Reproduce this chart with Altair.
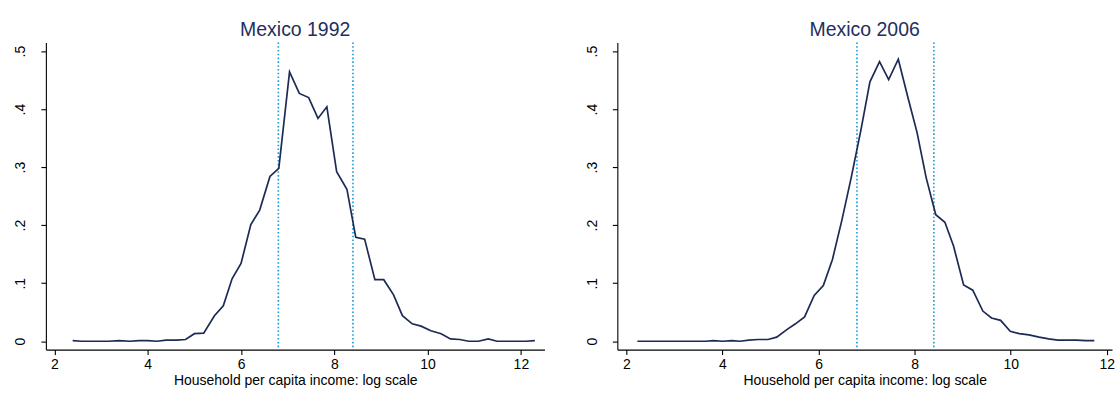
import altair as alt
import pandas as pd

# ---- data ----
x_1992 = [2.39, 2.58, 2.78, 2.97, 3.16, 3.39, 3.62, 3.81, 4.00, 4.20,
          4.39, 4.62, 4.81, 5.00, 5.20, 5.43, 5.62, 5.81, 6.00, 6.21,
          6.40, 6.62, 6.81, 7.04, 7.25, 7.45, 7.65, 7.84, 8.05, 8.27,
          8.46, 8.65, 8.87, 9.06, 9.27, 9.46, 9.67, 9.86, 10.07, 10.29,
          10.49, 10.69, 10.88, 11.09, 11.30, 11.49, 11.69, 11.92, 12.11, 12.30]
y_1992 = [0.001, 0.000, 0.000, 0.000, 0.000, 0.001, 0.000, 0.001, 0.001, 0.000,
          0.002, 0.002, 0.003, 0.013, 0.014, 0.044, 0.061, 0.108, 0.134, 0.201,
          0.226, 0.284, 0.298, 0.464, 0.427, 0.420, 0.384, 0.404, 0.292, 0.262,
          0.179, 0.176, 0.106, 0.106, 0.080, 0.044, 0.030, 0.026, 0.018, 0.013,
          0.004, 0.003, 0.000, 0.000, 0.004, 0.000, 0.000, 0.000, 0.000, 0.001]

x_2006 = [2.23, 2.43, 2.63, 2.84, 3.04, 3.24, 3.44, 3.65, 3.81, 4.00,
          4.20, 4.37, 4.55, 4.74, 4.95, 5.13, 5.34, 5.52, 5.71, 5.91,
          6.10, 6.29, 6.49, 6.68, 6.88, 7.07, 7.27, 7.46, 7.66, 7.87,
          8.05, 8.24, 8.44, 8.63, 8.81, 9.02, 9.21, 9.42, 9.60, 9.79,
          9.99, 10.18, 10.38, 10.59, 10.79, 10.98, 11.18, 11.37, 11.56, 11.74]
y_2006 = [0.000, 0.000, 0.000, 0.000, 0.000, 0.000, 0.000, 0.000, 0.001, 0.000,
          0.001, 0.000, 0.002, 0.003, 0.003, 0.007, 0.020, 0.030, 0.042, 0.079,
          0.096, 0.141, 0.210, 0.282, 0.363, 0.447, 0.482, 0.451, 0.486, 0.417,
          0.360, 0.282, 0.218, 0.205, 0.164, 0.097, 0.088, 0.052, 0.040, 0.036,
          0.017, 0.013, 0.011, 0.007, 0.004, 0.002, 0.002, 0.002, 0.001, 0.001]

poverty_lines = [6.8, 8.4]
x_ticks = [2, 4, 6, 8, 10, 12]
y_ticks = [0, 0.1, 0.2, 0.3, 0.4, 0.5]
titles = ["Mexico 1992", "Mexico 2006"]
x_label = "Household per capita income: log scale"

FONT = "Liberation Sans"
LINE_COLOR = "#1c2a55"
TITLE_COLOR = "#1e2f5e"
VLINE_COLOR = "#1a9ad6"


def panel(xs, ys, title, x_domain, width):
    df = pd.DataFrame({"x": xs, "y": ys})
    vl = pd.DataFrame({"x": poverty_lines})
    tdf = pd.DataFrame({"t": [title]})
    xscale = alt.Scale(domain=x_domain, nice=False, zero=False)
    yscale = alt.Scale(domain=[-0.0144, 0.515], nice=False, zero=False)
    xaxis = alt.Axis(values=x_ticks, title=x_label, grid=False, labelFlush=False,
                     tickSize=5, labelPadding=3, titlePadding=2)
    yaxis = alt.Axis(values=y_ticks, title=None, grid=False, labelAngle=270,
                     labelAlign="center", labelBaseline="bottom",
                     tickSize=5, labelPadding=13,
                     labelExpr="datum.value == 0 ? '0' : replace(format(datum.value, '.1f'), '0.', '.')")
    rules = alt.Chart(vl).mark_rule(
        color=VLINE_COLOR, strokeDash=[1.6, 2.2], strokeWidth=1.6
    ).encode(x=alt.X("x:Q", scale=xscale, axis=xaxis))
    line = alt.Chart(df).mark_line(color=LINE_COLOR, strokeWidth=1.7).encode(
        x=alt.X("x:Q", scale=xscale, axis=xaxis),
        y=alt.Y("y:Q", scale=yscale, axis=yaxis),
    )
    ttl = alt.Chart(tdf).mark_text(
        font=FONT, fontSize=19.5, color=TITLE_COLOR, align="center",
        baseline="alphabetic",
    ).encode(text="t:N", x=alt.value(width / 2), y=alt.value(-6.6))
    return alt.layer(rules, line, ttl).properties(width=width, height=308)


left = panel(x_1992, y_1992, titles[0], [1.816, 12.507], 500)
right = panel(x_2006, y_2006, titles[1], [1.813, 12.108], 496)

chart = alt.hconcat(left, right, spacing=40).properties(
    padding={"left": 13, "top": 19, "right": 0, "bottom": 0},
    background="white",
).configure_view(stroke=None).configure_axis(
    labelFont=FONT, titleFont=FONT, labelFontSize=14, titleFontSize=14,
    labelColor="#000000", titleColor="#000000", titleFontWeight="normal",
    domainColor="#000000", tickColor="#000000", domainWidth=1.1, tickWidth=1.1,
)

chart.save("out.html", embed_options={"renderer": "svg", "actions": False})
